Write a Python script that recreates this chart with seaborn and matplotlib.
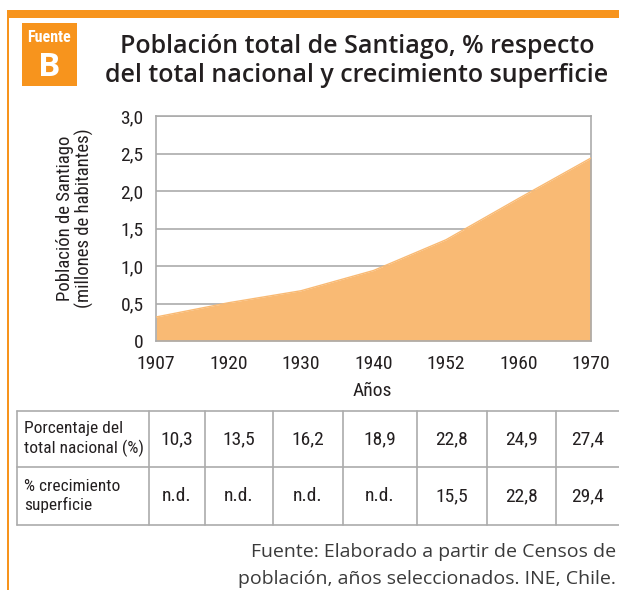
import matplotlib
matplotlib.use("Agg")
import matplotlib.pyplot as plt
from matplotlib import font_manager
from matplotlib.patches import Rectangle
import seaborn as sns
import pandas as pd

# Census years and Santiago population (millions)
years = ["1907", "1920", "1930", "1940", "1952", "1960", "1970"]
population = [0.32, 0.51, 0.67, 0.94, 1.35, 1.90, 2.44]

# Table rows
row_labels = ["Porcentaje del\ntotal nacional (%)", "% crecimiento\nsuperficie"]
pct_national = ["10,3", "13,5", "16,2", "18,9", "22,8", "24,9", "27,4"]
pct_surface = ["n.d.", "n.d.", "n.d.", "n.d.", "15,5", "22,8", "29,4"]

y_ticks = [0, 0.5, 1.0, 1.5, 2.0, 2.5, 3.0]
y_ticklabels = ["0", "0,5", "1,0", "1,5", "2,0", "2,5", "3,0"]

title = "Población total de Santiago, % respecto\ndel total nacional y crecimiento superficie"
ylabel = "Población de Santiago\n(millones de habitantes)"
xlabel = "Años"

ORANGE = "#F7941D"
FILL = "#F9BA74"
GRID = "#ABABAB"
TEXT = "#231F20"


def pick(*names):
    avail = {f.name for f in font_manager.fontManager.ttflist}
    for n in names:
        if n in avail:
            return n
    return "DejaVu Sans"


sns.set_theme(style="white")
NARROW = pick("Liberation Sans Narrow", "Roboto Condensed", "Roboto", "Liberation Sans")
HEAD = pick("Open Sans", "Noto Sans", "Lato")
BODY = pick("Open Sans", "Noto Sans")
plt.rcParams["font.family"] = [NARROW, "DejaVu Sans"]

W, H = 619, 590
fig = plt.figure(figsize=(W / 100, H / 100), dpi=100)

# Decoration layer in pixel coordinates
deco = fig.add_axes([0, 0, 1, 1])
deco.set_xlim(0, W)
deco.set_ylim(H, 0)
deco.axis("off")

deco.add_patch(Rectangle((7, 10), W - 7, 8, color=ORANGE, lw=0))
deco.add_patch(Rectangle((7, 10), 2, H - 10, color=ORANGE, lw=0))
deco.add_patch(Rectangle((22, 23), 55, 63, color=ORANGE, lw=0))
deco.text(49.5, 38, "Fuente", color="white", fontsize=11.5, fontweight="bold",
          ha="center", va="center", family=NARROW)
deco.text(49.5, 67, "B", color="white", fontsize=24, fontweight="bold",
          ha="center", va="center", family=HEAD)

deco.text(357, 61, title, color=TEXT, fontsize=18, fontweight="semibold",
          ha="center", va="center", family=HEAD, linespacing=1.22)

# Main area chart
ax = fig.add_axes([156 / W, 1 - 341 / H, (591 - 156) / W, (341 - 116) / H])
df = pd.DataFrame({"year": years, "population": population})
df["pos"] = range(len(years))
ax.fill_between(df["pos"], 0, df["population"], color=FILL, lw=0, zorder=2)
sns.lineplot(data=df, x="pos", y="population", ax=ax, color=FILL, lw=1, zorder=3)

ax.set_xlim(0, len(years) - 1)
ax.set_ylim(0, 3.0)
ax.set_yticks(y_ticks)
ax.set_yticklabels(y_ticklabels)
ax.set_xticks(df["pos"])
ax.set_xticklabels(years)
ax.yaxis.grid(True, color=GRID, lw=1.2, zorder=1)
ax.set_axisbelow(True)
for s in ax.spines.values():
    s.set_color(GRID)
    s.set_linewidth(1.2)
ax.tick_params(axis="x", length=5, width=1.2, color=GRID, pad=5,
               labelsize=14, labelcolor=TEXT)
ax.tick_params(axis="y", length=0, pad=9, labelsize=14, labelcolor=TEXT)
ax.set_xlabel("")
ax.set_ylabel("")
deco.text(372, 391, xlabel, ha="center", va="center", fontsize=14, color=TEXT)
deco.text(75, 218, ylabel, ha="center", va="center", rotation=90,
          fontsize=13.5, color=TEXT, linespacing=1.05)

# Data table below the chart
col_edges = [17, 149, 205, 273, 343, 417, 487, 556, 630]
row_edges = [411, 467, 525]
for yv in row_edges:
    deco.plot([col_edges[0], col_edges[-1]], [yv, yv], color=GRID, lw=1.2)
for xv in col_edges:
    deco.plot([xv, xv], [row_edges[0], row_edges[-1]], color=GRID, lw=1.2)

for r, (label, values) in enumerate(zip(row_labels, [pct_national, pct_surface])):
    yc = (row_edges[r] + row_edges[r + 1]) / 2
    deco.text(col_edges[0] + 7, yc, label, ha="left", va="center",
              fontsize=12.5, color=TEXT, linespacing=1.25)
    for c, v in enumerate(values):
        xc = (col_edges[c + 1] + min(col_edges[c + 2], W)) / 2
        deco.text(xc, yc, v, ha="center", va="center", fontsize=14, color=TEXT)

# Source note
deco.text(616, 552, "Fuente: Elaborado a partir de Censos de", ha="right",
          va="center", fontsize=14, color="#3a3a3a", family=BODY)
deco.text(616, 579, "población, años seleccionados. INE, Chile.", ha="right",
          va="center", fontsize=14, color="#3a3a3a", family=BODY)

fig.savefig("out.png", dpi=100)
